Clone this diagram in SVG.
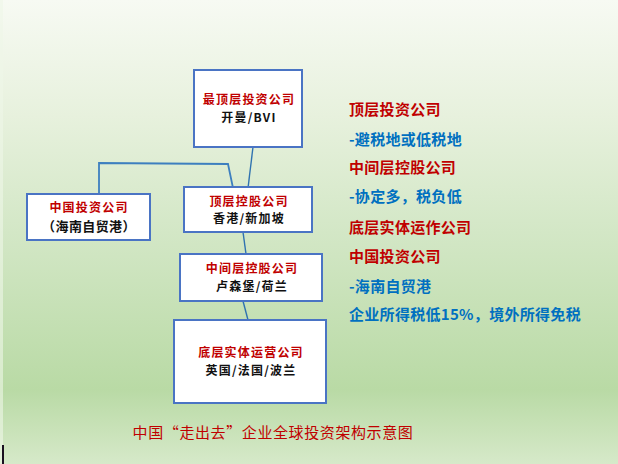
<svg xmlns="http://www.w3.org/2000/svg" width="618" height="464" viewBox="0 0 618 464">
<defs>
<linearGradient id="bg" x1="0" y1="0" x2="0" y2="1">
<stop offset="0" stop-color="#f7faf3"/>
<stop offset="0.25" stop-color="#e7f1dd"/>
<stop offset="0.5" stop-color="#d3e7c6"/>
<stop offset="0.84" stop-color="#b9daa5"/>
<stop offset="1" stop-color="#d6e9c9"/>
</linearGradient>
<style>
.box{fill:#ffffff;stroke:#4a74c4;stroke-width:2}
.red{fill:#c00000;font-family:"Noto Sans CJK SC","Noto Sans",sans-serif;font-weight:bold}
.blk{fill:#111111;font-family:"Noto Sans CJK SC","Noto Sans",sans-serif;font-weight:bold}
.blu{fill:#0070c0;font-family:"Noto Sans CJK SC","Noto Sans",sans-serif;font-weight:bold}
.bt{font-size:12px;letter-spacing:1.2px;text-anchor:middle}
.side{font-size:15px;letter-spacing:0.3px}
.conn{fill:none;stroke:#2f72b0;stroke-width:1.4}
</style>
</defs>
<rect x="0" y="0" width="618" height="464" fill="url(#bg)"/>
<rect x="0" y="0" width="3" height="464" fill="#eef6e8" opacity="0.6"/>
<rect x="2" y="445" width="2" height="19" fill="#1a1020"/>

<g id="connectors">
<line class="conn" x1="253" y1="147" x2="248" y2="188"/>
<polyline class="conn" points="99,193 99,163 228,164 233,188" style="stroke:#3d7fbf;stroke-width:1.8"/>
<line class="conn" x1="243" y1="232" x2="246" y2="254"/>
<line class="conn" x1="243" y1="301" x2="248" y2="320"/>
</g>

<g id="top-investment">
<rect class="box" x="194" y="70" width="108" height="77"/>
<text class="red bt" x="249" y="104">最顶层投资公司</text>
<text class="blk bt" x="249" y="122">开曼/BVI</text>
</g>

<g id="top-holding">
<rect class="box" x="184" y="187" width="128" height="45"/>
<text class="red bt" x="249" y="206">顶层控股公司</text>
<text class="blk bt" x="249" y="223">香港/新加坡</text>
</g>

<g id="china-investment">
<rect class="box" x="27" y="194" width="123" height="46"/>
<text class="red bt" x="89" y="212">中国投资公司</text>
<text class="blk bt" x="89" y="231" style="font-size:13px;letter-spacing:0.4px">（海南自贸港）</text>
</g>

<g id="mid-holding">
<rect class="box" x="180" y="254" width="142" height="47"/>
<text class="red bt" x="252" y="273">中间层控股公司</text>
<text class="blk bt" x="252" y="291">卢森堡/荷兰</text>
</g>

<g id="bottom-entity">
<rect class="box" x="174" y="320" width="152" height="83"/>
<text class="red bt" x="251" y="357">底层实体运营公司</text>
<text class="blk bt" x="251" y="375">英国/法国/波兰</text>
</g>

<g id="notes">
<text class="red side" x="349" y="115">顶层投资公司</text>
<text class="blu side" x="349" y="145">-避税地或低税地</text>
<text class="red side" x="349" y="173">中间层控股公司</text>
<text class="blu side" x="349" y="202">-协定多，税负低</text>
<text class="red side" x="349" y="233">底层实体运作公司</text>
<text class="red side" x="349" y="262">中国投资公司</text>
<text class="blu side" x="349" y="292">-海南自贸港</text>
<text class="blu side" x="349" y="320">企业所得税低15%，境外所得免税</text>
</g>

<text x="273" y="438" text-anchor="middle" style="font-family:'Noto Sans CJK SC',sans-serif;font-size:15px;letter-spacing:0.6px;fill:#c00000">中国“走出去”企业全球投资架构示意图</text>
</svg>
